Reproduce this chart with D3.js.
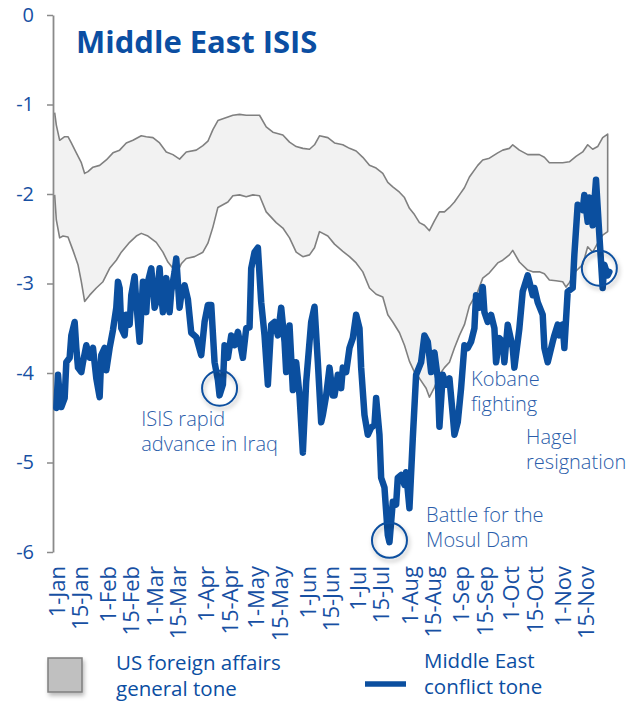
<!DOCTYPE html>
<html><head><meta charset="utf-8">
<script src="https://cdn.jsdelivr.net/npm/d3@7"></script>
<style>
html,body{margin:0;padding:0;background:#fff;}
svg{display:block;}
</style></head><body>
<svg id="chart" width="626" height="701"></svg>
<script>
// ---------- data ----------
const chartTitle = "Middle East ISIS";
const tickLabels = ["1-Jan","15-Jan","1-Feb","15-Feb","1-Mar","15-Mar","1-Apr","15-Apr","1-May","15-May","1-Jun","15-Jun","1-Jul","15-Jul","1-Aug","15-Aug","1-Sep","15-Sep","1-Oct","15-Oct","1-Nov","15-Nov"];
const yTickValues = [0,-1,-2,-3,-4,-5,-6];

// days counted from 1 Jan 2014
const upperDays = [-1,0,2,5,7,9,12,15,17,19,22,26,30,34,38,42,46,51,54,58,62,66,70,74,78,84,88,91,94,97,103,106,110,114,118,122,126,130,136,140,144,148,152,155,158,163,167,172,176,180,184,188,192,196,199,202,206,209,212,215,218,221,224,227,230,233,236,239,242,245,248,253,256,260,265,268,272,274,278,283,286,290,293,296,300,304,308,312,316,319,322,325,328,331];
const upperTone = [-1.09,-1.23,-1.40,-1.36,-1.36,-1.43,-1.54,-1.65,-1.77,-1.75,-1.70,-1.68,-1.62,-1.54,-1.51,-1.43,-1.40,-1.35,-1.36,-1.37,-1.43,-1.53,-1.56,-1.61,-1.53,-1.51,-1.46,-1.41,-1.28,-1.18,-1.14,-1.12,-1.11,-1.12,-1.12,-1.12,-1.25,-1.31,-1.34,-1.42,-1.47,-1.49,-1.50,-1.45,-1.35,-1.37,-1.43,-1.45,-1.49,-1.52,-1.59,-1.68,-1.71,-1.77,-1.87,-1.92,-1.98,-2.04,-2.16,-2.23,-2.32,-2.35,-2.41,-2.30,-2.20,-2.20,-2.15,-2.09,-2.01,-1.93,-1.81,-1.68,-1.62,-1.60,-1.54,-1.51,-1.49,-1.45,-1.51,-1.56,-1.56,-1.56,-1.59,-1.65,-1.65,-1.65,-1.64,-1.58,-1.53,-1.45,-1.50,-1.47,-1.37,-1.33];

const lowerDays = [-1,0,2,4,7,10,13,15,17,20,24,28,32,36,39,44,48,51,55,60,64,67,70,73,75,78,83,88,91,94,97,103,106,110,114,118,122,126,132,136,140,144,148,152,155,158,163,167,172,176,180,184,188,192,196,199,202,206,209,212,215,218,222,224,227,230,233,236,239,242,245,248,253,256,260,265,268,272,274,278,283,286,290,293,296,300,304,306,308,312,316,319,322,325,328,331];
const lowerTone = [-2.01,-2.29,-2.49,-2.47,-2.48,-2.63,-2.79,-2.98,-3.20,-3.13,-3.05,-2.98,-2.83,-2.74,-2.65,-2.54,-2.47,-2.44,-2.47,-2.54,-2.65,-2.76,-2.83,-2.86,-2.78,-2.72,-2.70,-2.65,-2.55,-2.37,-2.15,-2.09,-2.02,-2.01,-2.03,-2.01,-2.02,-2.20,-2.32,-2.38,-2.49,-2.65,-2.70,-2.68,-2.60,-2.42,-2.47,-2.56,-2.64,-2.70,-2.77,-2.87,-3.05,-3.12,-3.15,-3.35,-3.43,-3.55,-3.69,-3.87,-3.99,-4.06,-4.17,-4.27,-4.16,-4.02,-3.94,-3.88,-3.72,-3.58,-3.46,-3.25,-3.09,-2.94,-2.88,-2.77,-2.74,-2.68,-2.63,-2.76,-2.85,-2.87,-2.87,-2.89,-2.96,-2.97,-2.98,-3.04,-2.99,-2.86,-2.79,-2.59,-2.65,-2.55,-2.46,-2.42];

const conflictDays = [0,1,2,3,5,6,8,9,11,12,13,15,16,18,20,22,24,26,27,29,30,32,34,36,37,38,39,41,42,44,45,47,48,50,52,54,55,57,59,60,62,63,64,66,68,69,71,72,74,75,77,79,81,84,87,89,91,93,95,97,98,100,101,103,105,107,109,112,114,116,117,119,121,123,125,127,129,131,133,135,137,138,140,142,144,146,148,150,153,155,157,159,160,162,164,166,167,169,171,172,174,176,178,180,182,183,185,187,189,191,192,194,195,197,199,200,202,204,205,207,209,210,212,214,216,219,221,223,225,227,229,230,232,234,236,238,239,241,243,245,247,249,251,252,254,256,257,259,261,263,264,266,268,269,271,274,275,277,278,280,283,284,286,287,289,292,293,295,298,299,301,302,304,305,307,310,311,313,316,317,319,320,322,324,326,328,329,331,332];
const conflictTone = [-4.39,-4.02,-4.25,-4.38,-4.28,-3.88,-3.83,-3.58,-3.43,-3.72,-3.94,-3.99,-3.88,-3.69,-3.83,-3.72,-4.06,-4.27,-3.80,-3.72,-3.97,-3.72,-3.52,-3.27,-2.98,-3.05,-3.50,-3.58,-3.35,-3.46,-3.13,-2.92,-3.21,-3.65,-2.98,-3.32,-2.98,-2.83,-3.27,-3.21,-2.83,-3.13,-3.32,-2.94,-3.32,-3.09,-2.87,-2.72,-3.27,-3.13,-3.02,-3.18,-3.55,-3.60,-3.80,-3.43,-3.24,-3.24,-3.88,-4.08,-4.25,-4.13,-3.69,-3.83,-3.58,-3.69,-3.54,-3.83,-3.50,-3.49,-2.83,-2.65,-2.60,-3.21,-3.58,-4.13,-3.46,-3.43,-3.58,-3.27,-3.65,-3.99,-3.47,-4.19,-3.88,-4.25,-4.89,-4.10,-3.43,-3.26,-3.88,-4.55,-4.47,-4.25,-3.94,-4.25,-4.25,-4.02,-4.17,-3.94,-3.99,-3.72,-3.61,-3.35,-3.50,-3.94,-4.47,-4.69,-4.61,-4.58,-4.28,-4.69,-5.17,-5.28,-5.81,-5.89,-5.44,-5.47,-5.17,-5.14,-5.25,-5.11,-5.51,-4.73,-4.02,-3.88,-3.58,-3.65,-3.99,-3.77,-4.06,-4.60,-4.02,-4.13,-4.06,-4.47,-4.69,-4.55,-4.17,-3.69,-3.72,-3.65,-3.50,-3.13,-3.27,-3.04,-3.32,-3.43,-3.35,-3.50,-3.88,-3.61,-3.65,-3.88,-3.46,-3.72,-3.94,-3.65,-3.50,-3.09,-2.91,-2.98,-3.13,-3.05,-3.21,-3.35,-3.72,-3.88,-3.65,-3.58,-3.46,-3.58,-3.46,-3.72,-3.09,-3.05,-2.68,-2.12,-2.18,-2.01,-2.31,-2.04,-2.35,-1.84,-2.46,-3.05,-2.79,-2.91,-2.87];

// annotated events: circled day/tone and label lines
const eventLabels = [["ISIS rapid","advance in Iraq"],["Battle for the","Mosul Dam"],["Kobane","fighting"],["Hagel","resignation"]];
const eventDays = [98, 200, null, 326];
const eventTones = [-4.17, -5.87, null, -2.83];

const legendLabels = [["US foreign affairs","general tone"],["Middle East","conflict tone"]];

// ---------- drawing ----------
const BLUE = "#0b4f9f";
const TEXTBLUE = "#1750a3";
const GRAY = "#808080";

const svg = d3.select("#chart");
const defs = svg.append("defs");
const f = defs.append("filter").attr("id","shadow").attr("x","-50%").attr("y","-50%").attr("width","200%").attr("height","200%");
f.append("feDropShadow").attr("dx",1.5).attr("dy",3).attr("stdDeviation",2).attr("flood-color","#000").attr("flood-opacity",0.28);

const base = Date.UTC(2014,0,1);
const dayDate = d => d3.utcDay.offset(new Date(base), d);

const x = d3.scaleUtc()
  .domain([new Date(Date.UTC(2013,11,30)), new Date(Date.UTC(2014,10,30))])
  .range([53, 611]);
const y = d3.scaleLinear().domain([-6, 0]).range([552, 15]);

const upper = upperDays.map((d,i) => [dayDate(d), upperTone[i]]);
const lower = lowerDays.map((d,i) => [dayDate(d), lowerTone[i]]);
const conflict = conflictDays.map((d,i) => [dayDate(d), conflictTone[i]]);

const line = d3.line().x(d => x(d[0])).y(d => y(d[1]));

// band fill
const bandPts = upper.concat(lower.slice().reverse());
svg.append("path")
  .attr("d", line(bandPts) + "Z")
  .attr("fill", "#f2f2f2")
  .attr("stroke", "none");
// band outline (upper -> right edge -> lower)
svg.append("path")
  .attr("d", line(bandPts))
  .attr("fill", "none")
  .attr("stroke", GRAY)
  .attr("stroke-width", 1.6)
  .attr("stroke-linejoin", "round");

// y axis
const yAxis = d3.axisLeft(y).tickValues(yTickValues).tickSize(6).tickSizeOuter(0).tickPadding(13)
  .tickFormat(d => String(d));
const gy = svg.append("g").attr("transform", "translate(53,0)").call(yAxis);
gy.select(".domain").attr("stroke", "#8a8a8a").attr("stroke-width", 1.8);
gy.selectAll(".tick line").attr("stroke", "#8a8a8a").attr("stroke-width", 1.5);
gy.selectAll(".tick text").attr("fill", TEXTBLUE).style("font-family", "'Open Sans', sans-serif").style("font-size", "20px");

// x axis
const parseTick = d3.utcParse("%d-%b-%Y");
const tickDates = tickLabels.map(t => parseTick(t + "-2014"));
const xAxis = d3.axisBottom(x).tickValues(tickDates).tickSize(0).tickFormat(d3.utcFormat("%-d-%b"));
const gx = svg.append("g").attr("transform", "translate(0,552)").call(xAxis);
gx.select(".domain").remove();
gx.selectAll(".tick text")
  .attr("transform", "rotate(-90)")
  .attr("x", -14).attr("y", 0).attr("dy", "0.35em")
  .style("text-anchor", "end")
  .attr("fill", TEXTBLUE)
  .style("font-family", "'Open Sans', sans-serif").style("font-size", "22px");

// conflict line
svg.append("path")
  .attr("d", line(conflict))
  .attr("fill", "none")
  .attr("stroke", BLUE)
  .attr("stroke-width", 6.5)
  .attr("stroke-linejoin", "round")
  .attr("stroke-linecap", "round");

// event circles
eventDays.forEach((d, i) => {
  if (d === null) return;
  svg.append("circle")
    .attr("cx", x(dayDate(d))).attr("cy", y(eventTones[i])).attr("r", 17.5)
    .attr("fill", "none").attr("stroke", BLUE).attr("stroke-width", 2)
    .attr("filter", "url(#shadow)");
});

// event labels (anchored in data space)
const labelAnchors = [[51.5, -4.59], [222.5, -5.66], [249.5, -4.15], [282, -4.79]];
eventLabels.forEach((lines, i) => {
  const t = svg.append("text")
    .attr("x", x(dayDate(labelAnchors[i][0])))
    .attr("y", y(labelAnchors[i][1]))
    .attr("fill", "#2a5daa")
    .style("font-family", "'Open Sans', sans-serif").style("font-weight", 300).style("font-size", "20px");
  lines.forEach((s, j) => t.append("tspan").attr("x", x(dayDate(labelAnchors[i][0]))).attr("dy", j === 0 ? 0 : 25).text(s));
});

// title
svg.append("text").attr("x", 76).attr("y", 53).text(chartTitle)
  .attr("fill", "#0b4ea2")
  .style("font-family", "'Open Sans', sans-serif").style("font-weight", 700).style("font-size", "31px");

// legend
const lg = svg.append("g");
lg.append("rect").attr("x", 48).attr("y", 658).attr("width", 34).attr("height", 34)
  .attr("fill", "#c0c0c0").attr("stroke", "#7f7f7f").attr("stroke-width", 1.5).attr("filter", "url(#shadow)");
lg.append("line").attr("x1", 365).attr("x2", 406).attr("y1", 684).attr("y2", 684)
  .attr("stroke", BLUE).attr("stroke-width", 5.5);
const legX = [116, 424], legY = [670, 668];
legendLabels.forEach((lines, i) => {
  const t = lg.append("text").attr("y", legY[i]).attr("fill", "#0b4ea2")
    .style("font-family", "'Open Sans', sans-serif").style("font-size", "20.5px");
  lines.forEach((s, j) => t.append("tspan").attr("x", legX[i]).attr("dy", j === 0 ? 0 : 26).text(s));
});
</script>
</body></html>
